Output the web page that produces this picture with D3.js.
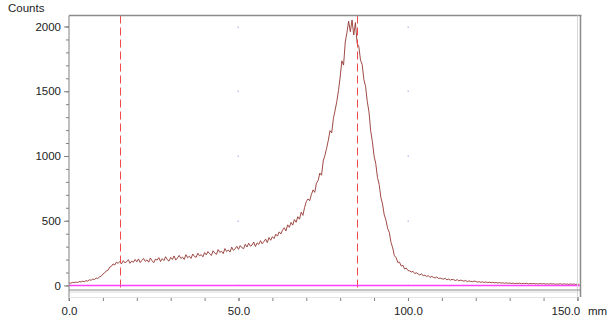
<!DOCTYPE html>
<html>
<head>
<meta charset="utf-8">
<script src="https://cdn.jsdelivr.net/npm/d3@7"></script>
<style>
  body { margin: 0; background: #fff; }
  svg { display: block; font-family: "Liberation Sans", Arial, sans-serif; }
  .axis text { font-size: 11.5px; fill: #222; }
  .axis path, .axis line { stroke: #808080; }
</style>
</head>
<body>
<svg id="chart" width="609" height="320"></svg>
<script>
'use strict';

// position in mm, sampled every 0.5 mm from 0.0
var STEP_MM = 0.5;

// counts, one row per 10 mm
var counts = [
  20, 17, 24, 21, 26, 23, 30, 27, 33, 29, 37, 34, 44, 40, 49, 46, 57, 54, 66, 72,
  88, 97, 112, 118, 141, 148, 166, 158, 181, 170, 186, 168, 192, 175, 183, 199, 171, 188, 179, 201,
  183, 205, 177, 194, 209, 186, 198, 180, 212, 191, 176, 203, 196, 215, 185, 207, 192, 222, 199, 188,
  217, 201, 228, 196, 213, 232, 208, 219, 201, 238, 214, 226, 209, 243, 224, 217, 249, 229, 238, 221,
  254, 236, 262, 244, 231, 268, 250, 241, 277, 256, 264, 246, 285, 262, 274, 258, 296, 271, 283, 302,
  279, 308, 292, 284, 318, 297, 326, 304, 312, 335, 301, 329, 317, 346, 322, 339, 358, 331, 370, 349,
  377, 362, 396, 381, 414, 398, 428, 446, 421, 468, 449, 487, 466, 509, 488, 531, 512, 566, 541, 603,
  647, 668, 655, 702, 738, 719, 790, 812, 868, 851, 962, 1005, 1060, 1121, 1196, 1178, 1290, 1352, 1420, 1505,
  1610, 1735, 1702, 1880, 1955, 2040, 1960, 2050, 1935, 2030, 1870, 1845, 1740, 1705, 1590, 1535, 1420, 1340, 1195, 1110,
  1000, 940, 835, 780, 680, 628, 545, 505, 440, 410, 332, 290, 230, 215, 178, 180, 150, 156, 128, 134,
  116, 112, 104, 109, 92, 98, 89, 80, 91, 74, 79, 69, 77, 62, 70, 63, 58, 66, 54, 57,
  52, 49, 55, 43, 50, 41, 47, 44, 38, 45, 36, 41, 38, 33, 39, 30, 35, 32, 29, 34,
  31, 26, 29, 24, 28, 23, 27, 22, 25, 21, 24, 20, 23, 19, 22, 18, 21, 17, 20, 17,
  19, 15, 18, 14, 17, 15, 18, 13, 16, 14, 17, 12, 15, 13, 16, 12, 14, 11, 15, 12,
  14, 11, 13, 10, 14, 11, 13, 9, 12, 10, 13, 9, 12, 10, 11, 8, 12, 9, 11, 8,
  10, 9
];

var xMajorTicks = [0, 50, 100, 150];
var xMinorTicks = d3.range(0, 151, 10);
var yMajorTicks = [0, 500, 1000, 1500, 2000];
var yMinorTicks = d3.range(0, 2001, 100);

var markerLines = [15, 85];   // red dashed cursors (mm)
var baseLevel = [0];          // magenta baseline (counts)

var svg = d3.select("#chart");

var x = d3.scaleLinear().domain([0, 150.75]).range([69, 580]);
var y = d3.scaleLinear().domain([-35, 2085]).range([290, 15.5]);

var plotTop = y.range()[1], plotBottom = y.range()[0];
var plotLeft = x.range()[0], plotRight = x.range()[1];

// grid dots at major tick crossings
var dots = [];
xMajorTicks.slice(1, 3).forEach(function(a) {
  yMajorTicks.forEach(function(b) { dots.push([a, b]); });
});
svg.append("g").selectAll("rect").data(dots).enter().append("rect")
  .attr("x", function(d) { return Math.round(x(d[0])) - 0.5; })
  .attr("y", function(d) { return Math.round(y(d[1])) - 0.5; })
  .attr("width", 1.5).attr("height", 1.5)
  .attr("fill", "#c4c4f4");

// profile
var line = d3.line()
  .x(function(d, i) { return x(i * STEP_MM); })
  .y(function(d) { return y(d); });

svg.append("path").datum(counts)
  .attr("d", line)
  .attr("fill", "none")
  .attr("stroke", "#933530")
  .attr("stroke-width", 0.9)
  .attr("stroke-linejoin", "round");

// dashed cursors
svg.append("g").selectAll("line").data(markerLines).enter().append("line")
  .attr("x1", function(d) { return Math.round(x(d)) + 0.5; })
  .attr("x2", function(d) { return Math.round(x(d)) + 0.5; })
  .attr("y1", plotTop).attr("y2", plotBottom)
  .attr("stroke", "#f24a4a").attr("stroke-width", 1)
  .attr("stroke-dasharray", "8,4");

// baseline, on top
svg.append("g").selectAll("line").data(baseLevel).enter().append("line")
  .attr("x1", plotLeft).attr("x2", plotRight)
  .attr("y1", function(d) { return Math.round(y(d)) + 0.5; })
  .attr("y2", function(d) { return Math.round(y(d)) + 0.5; })
  .attr("stroke", "#ff40ff").attr("stroke-width", 1.5);

// frame
svg.append("line").attr("x1", plotLeft).attr("x2", plotRight + 1.5).attr("y1", plotTop).attr("y2", plotTop)
  .attr("stroke", "#8c8c8c").attr("stroke-width", 1.5);
svg.append("line").attr("x1", plotRight - 2.5).attr("x2", plotRight - 2.5).attr("y1", plotTop).attr("y2", 297)
  .attr("stroke", "#d8d8d8").attr("stroke-width", 1);
svg.append("line").attr("x1", plotRight + 0.5).attr("x2", plotRight + 0.5).attr("y1", plotTop).attr("y2", 297)
  .attr("stroke", "#8c8c8c").attr("stroke-width", 1.5);
svg.append("line").attr("x1", plotLeft).attr("x2", plotRight).attr("y1", plotBottom).attr("y2", plotBottom)
  .attr("stroke", "#8c8c8c").attr("stroke-width", 1.2);
svg.append("line").attr("x1", plotLeft).attr("x2", plotRight).attr("y1", plotBottom + 2).attr("y2", plotBottom + 2)
  .attr("stroke", "#dcdcdc").attr("stroke-width", 1);
svg.append("line").attr("x1", plotLeft).attr("x2", plotLeft).attr("y1", plotTop).attr("y2", 301)
  .attr("stroke", "#808080").attr("stroke-width", 1);

// y axis
svg.append("g").attr("class", "axis").attr("transform", "translate(" + plotLeft + ",0)")
  .call(d3.axisLeft(y).tickValues(yMinorTicks).tickSize(3).tickFormat(""))
  .call(function(g) { g.select(".domain").remove(); });
svg.append("g").attr("class", "axis").attr("transform", "translate(" + plotLeft + ",0)")
  .call(d3.axisLeft(y).tickValues(yMajorTicks).tickSize(5).tickPadding(3).tickFormat(d3.format("d")))
  .call(function(g) { g.select(".domain").remove(); });

// x axis
var xAxisY = 297;
svg.append("g").attr("class", "axis").attr("transform", "translate(0," + xAxisY + ")")
  .call(d3.axisBottom(x).tickValues(xMinorTicks).tickSize(4).tickFormat(""))
  .call(function(g) { g.select(".domain").remove(); });
var xa = svg.append("g").attr("class", "axis").attr("transform", "translate(0," + xAxisY + ")")
  .call(d3.axisBottom(x).tickValues(xMajorTicks).tickSize(4).tickPadding(6).tickFormat(d3.format(".1f")))
  .call(function(g) { g.select(".domain").remove(); });
xa.selectAll(".tick").filter(function(d) { return d === 150; }).select("text")
  .attr("text-anchor", "end").attr("dx", "0.2em");
svg.append("line").attr("x1", plotLeft).attr("x2", x(150)).attr("y1", xAxisY + 0.5).attr("y2", xAxisY + 0.5)
  .attr("stroke", "#e4e4e4");

// titles
svg.append("text").attr("x", 8).attr("y", 12)
  .style("font-size", "11.5px").attr("fill", "#222").text("Counts");
svg.append("text").attr("x", 588).attr("y", 315)
  .style("font-size", "11.5px").attr("fill", "#222").text("mm");
</script>
</body>
</html>
